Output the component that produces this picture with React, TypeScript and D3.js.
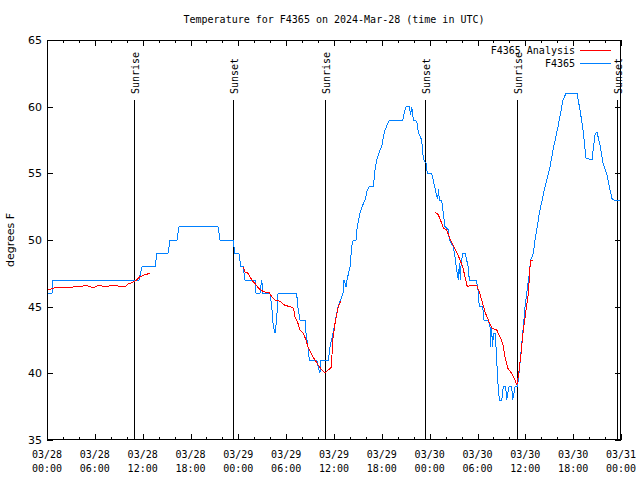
import React from "react";
import * as d3 from "d3";

const TITLE = "Temperature for F4365 on 2024-Mar-28 (time in UTC)";
const Y_LABEL = "degrees F";
const BASE = Date.UTC(2024, 2, 28, 0, 0);

// [hours since 2024-03-28 00:00 UTC, temperature F]
const stationObs: [number, number][] = [
  [0.0, 46], [0.63, 46], [0.75, 47], [11.29, 47], [11.54, 47], [11.92, 48], [13.55, 48], [13.8, 49],
  [15.18, 49], [15.43, 50], [16.31, 50], [16.56, 51], [21.45, 51], [21.7, 50], [23.33, 50], [23.58, 49],
  [24.08, 49], [24.3, 48], [24.59, 48], [24.84, 47], [26.09, 47], [26.22, 46], [26.72, 46], [26.93, 47],
  [27.09, 46], [27.97, 46], [28.19, 45], [28.39, 43.5], [28.6, 43], [28.81, 44], [28.98, 46], [31.32, 46],
  [31.45, 45], [31.74, 44], [32.36, 44], [32.49, 43], [32.74, 42], [32.9, 41], [33.83, 41], [34.0, 40.5],
  [34.24, 40], [34.33, 41], [35.29, 41], [35.5, 42], [35.88, 43], [36.5, 45], [37.13, 46], [37.26, 47],
  [37.51, 46.5], [37.63, 47], [38.01, 48], [38.22, 49.5], [38.42, 50], [38.76, 50], [38.92, 51], [39.26, 52],
  [39.6, 52.6], [39.89, 53], [40.18, 53.75], [40.43, 54], [40.93, 54], [41.14, 55.25], [41.36, 56],
  [41.77, 56.75], [41.99, 57], [42.19, 57.75], [42.4, 58.25], [42.94, 59], [44.62, 59], [44.91, 59.75],
  [45.03, 60], [45.45, 60], [45.62, 59.4], [45.75, 60], [45.95, 59], [46.38, 58.9], [46.58, 58.1],
  [47.0, 57.5], [47.13, 56.5], [47.29, 56], [47.54, 55.75], [47.7, 55], [48.26, 55], [48.67, 53.9],
  [48.89, 53.25], [49.01, 53.1], [49.12, 53.8], [49.21, 53], [49.51, 53], [49.71, 52], [49.92, 51],
  [50.34, 50.75], [50.47, 50], [50.97, 49.5], [51.18, 48.75], [51.39, 47.75], [51.59, 47], [51.74, 48.3],
  [51.84, 47], [51.93, 48], [52.14, 49], [52.43, 49], [52.64, 48.5], [52.84, 48], [52.97, 47], [53.81, 47],
  [54.03, 46.5], [54.23, 45], [54.65, 45], [54.82, 44], [55.36, 44], [55.57, 43.5], [55.63, 42],
  [55.76, 43.5], [55.89, 42], [56.01, 43], [56.2, 43], [56.41, 41.25], [56.49, 39.75], [56.61, 39],
  [56.74, 38], [57.04, 38], [57.24, 39], [57.54, 39], [57.66, 38], [57.95, 39], [58.29, 39], [58.42, 38],
  [58.71, 39], [59.0, 39], [59.12, 39.5], [59.33, 40.75], [59.75, 43.5], [59.96, 45], [60.17, 46],
  [60.5, 47.5], [60.67, 48.5], [61.0, 49], [61.21, 50], [61.5, 51], [61.75, 52], [62.47, 54], [63.1, 55.5],
  [63.47, 56.75], [64.1, 58.5], [64.73, 60.5], [65.1, 61], [66.48, 61], [66.86, 59.75], [67.24, 58.25],
  [67.61, 56.15], [68.36, 56], [68.74, 57.9], [68.99, 58.1], [69.37, 57.1], [69.74, 55.8], [70.24, 54.9],
  [70.62, 53.75], [70.87, 53.1], [71.12, 53], [71.88, 53],
];

const analysisDay1: [number, number][] = [
  [0.16, 46.25], [0.88, 46.4], [4.14, 46.5], [4.98, 46.6], [5.81, 46.4], [6.44, 46.6], [7.28, 46.5],
  [8.32, 46.6], [9.37, 46.5], [9.78, 46.5], [10.2, 46.7], [10.83, 46.85], [11.25, 47], [11.67, 47.25],
  [12.29, 47.4], [12.92, 47.5],
];
const analysisDay2: [number, number][] = [
  [24.62, 48], [24.84, 47.6], [25.25, 47.5], [25.68, 47], [26.09, 46.75], [26.51, 46.4], [26.93, 46.2],
  [27.35, 46.1], [27.89, 46.05], [28.19, 45.75], [28.6, 45.5], [29.23, 45.4], [29.85, 45.1], [30.48, 45.0],
  [30.9, 44.9], [31.11, 44.25], [31.4, 43.9], [31.74, 43.25], [32.15, 43.0], [32.49, 42.5], [32.78, 41.9],
  [33.2, 41.4], [33.62, 41.0], [34.03, 40.6], [34.46, 40.25], [34.87, 40.05], [35.29, 40.25], [35.71, 40.5],
  [35.79, 42.25], [36.13, 43.75], [36.54, 45.0], [36.84, 45.4],
];
const analysisDay3: [number, number][] = [
  [48.67, 52.1], [49.08, 51.9], [49.51, 51.25], [49.71, 50.9], [50.14, 50.75], [50.55, 50.1], [50.97, 49.6],
  [51.39, 49.1], [51.81, 48.5], [52.14, 48], [52.43, 47.25], [52.72, 46.5], [53.06, 46.6], [53.9, 46.6],
  [54.23, 46.1], [54.53, 45.5], [54.94, 44.6], [55.36, 44], [55.78, 43.4], [56.41, 43.25], [56.82, 42.75],
  [57.16, 42.25], [57.45, 41.25], [57.79, 40.4], [58.29, 40.0], [58.71, 39.5], [58.92, 39.1], [59.12, 39.75],
  [59.46, 41.5], [59.75, 43.25], [60.09, 44.75], [60.38, 46.0], [60.59, 48], [60.67, 48.5], [61.0, 48.5],
];

const sunEventHours = [10.91, 23.33, 34.87, 47.42, 58.96, 71.5];
const sunEventNames = ["Sunrise", "Sunset", "Sunrise", "Sunset", "Sunrise", "Sunset"];
const yTicks = [35, 40, 45, 50, 55, 60, 65];
const legendNames = ["F4365 Analysis", "F4365"];

const W = 640, H = 480;
const L = 47, R = 621, T = 40, B = 440;
const RED = "#ff0000";
const BLUE = "#0080ff";
const MONO = "'DejaVu Sans Mono', monospace";
const SANS = "'DejaVu Sans', sans-serif";

const toDate = (h: number) => new Date(BASE + h * 3600000);

export default function App() {
  const x = d3.scaleUtc().domain([toDate(0), toDate(72)]).range([L, R]);
  const y = d3.scaleLinear().domain([35, 65]).range([B, T]);
  const line = d3
    .line<[number, number]>()
    .x((d) => x(toDate(d[0])))
    .y((d) => y(d[1]));

  const majorTicks = x.ticks(d3.utcHour.every(6)!);
  const minorTicks = x.ticks(d3.utcHour.every(2)!);
  const fmtDate = d3.utcFormat("%m/%d");
  const fmtTime = d3.utcFormat("%H:%M");

  return (
    <svg width={W} height={H} style={{ display: "block", position: "absolute", left: 0, top: 0, background: "#fff" }}>
      <rect width={W} height={H} fill="#fff" />
      <text x={(L + R) / 2} y={23} textAnchor="middle" fontFamily={MONO} fontSize={10} fill="#000">
        {TITLE}
      </text>

      {/* y ticks */}
      {yTicks.map((t) => (
        <g key={"y" + t}>
          <line x1={L} x2={L + 6} y1={Math.round(y(t)) + 0.5} y2={Math.round(y(t)) + 0.5} stroke="#000" />
          <line x1={R - 6} x2={R} y1={Math.round(y(t)) + 0.5} y2={Math.round(y(t)) + 0.5} stroke="#000" />
          <text x={L - 5} y={y(t) + 4} textAnchor="end" fontFamily={SANS} fontSize={11} fill="#000">
            {t}
          </text>
        </g>
      ))}

      {/* x ticks */}
      {minorTicks.map((t, i) => {
        const xx = Math.round(x(t)) + 0.5;
        return (
          <g key={"mx" + i}>
            <line x1={xx} x2={xx} y1={B} y2={B - 3} stroke="#000" />
            <line x1={xx} x2={xx} y1={T} y2={T + 3} stroke="#000" />
          </g>
        );
      })}
      {majorTicks.map((t, i) => {
        const xx = Math.round(x(t)) + 0.5;
        return (
          <g key={"x" + i}>
            <line x1={xx} x2={xx} y1={B} y2={B - 6} stroke="#000" />
            <line x1={xx} x2={xx} y1={T} y2={T + 6} stroke="#000" />
            <text x={x(t)} y={B + 18} textAnchor="middle" fontFamily={MONO} fontSize={10} fill="#000">
              {fmtDate(t)}
            </text>
            <text x={x(t)} y={B + 32} textAnchor="middle" fontFamily={MONO} fontSize={10} fill="#000">
              {fmtTime(t)}
            </text>
          </g>
        );
      })}

      <text
        transform={`translate(14,${(T + B) / 2}) rotate(-90)`}
        textAnchor="middle"
        fontFamily={SANS}
        fontSize={11}
        fill="#000"
      >
        {Y_LABEL}
      </text>

      {/* sun events */}
      {sunEventHours.map((h, i) => {
        const xx = Math.round(x(toDate(h))) + 0.5;
        return (
          <g key={"s" + i}>
            <line x1={xx} x2={xx} y1={100} y2={B} stroke="#000" />
            <text
              transform={`translate(${xx + 4},94) rotate(-90)`}
              textAnchor="start"
              fontFamily={MONO}
              fontSize={10}
              fill="#000"
            >
              {sunEventNames[i]}
            </text>
          </g>
        );
      })}

      {/* data */}
      <path d={line(stationObs) || ""} fill="none" stroke={BLUE} strokeWidth={1} shapeRendering="crispEdges" />
      {[analysisDay1, analysisDay2, analysisDay3].map((seg, i) => (
        <path key={"a" + i} d={line(seg) || ""} fill="none" stroke={RED} strokeWidth={1} shapeRendering="crispEdges" />
      ))}

      {/* legend */}
      <text x={575} y={54} textAnchor="end" fontFamily={MONO} fontSize={10} fill="#000">
        {legendNames[0]}
      </text>
      <line x1={580} x2={611} y1={50.5} y2={50.5} stroke={RED} />
      <text x={575} y={67} textAnchor="end" fontFamily={MONO} fontSize={10} fill="#000">
        {legendNames[1]}
      </text>
      <line x1={580} x2={611} y1={63.5} y2={63.5} stroke={BLUE} />

      {/* border */}
      <rect x={L + 0.5} y={T + 0.5} width={R - L - 1} height={B - T - 1} fill="none" stroke="#000" />
    </svg>
  );
}
